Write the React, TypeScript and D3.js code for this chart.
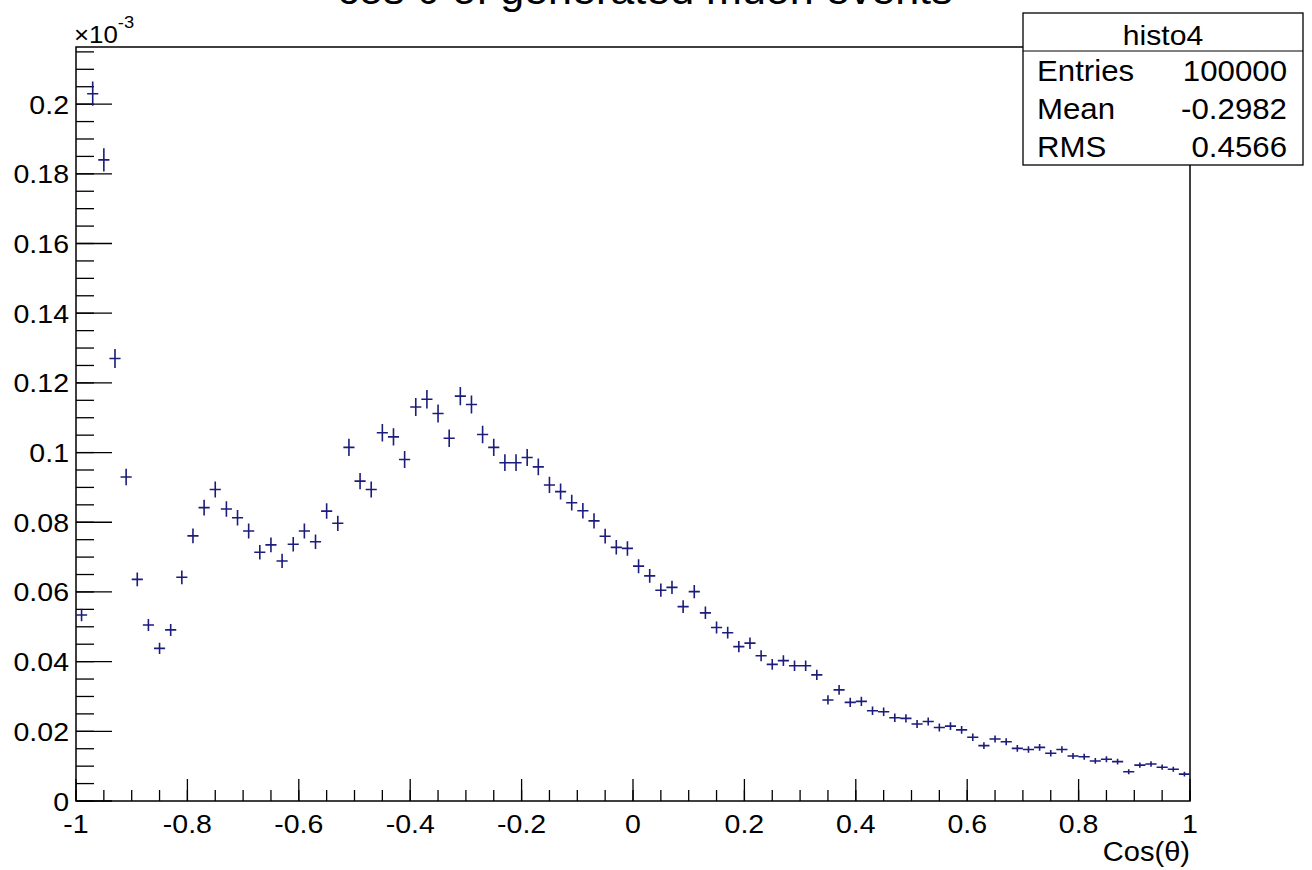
import React from "react";
import * as d3 from "d3";

// ---- data ----
const titleText = "cos θ of generated muon events";
const xAxisTitle = "Cos(θ)";
const histName = "histo4";
const statsLabels = ["Entries", "Mean", "RMS"];
const statsValues = ["100000", "-0.2982", "0.4566"];
const entries = 100000;
const xMin = -1;
const xMax = 1;
const nBins = 100;
const yMax = 0.2164; // in units of 1e-3
const yExponentBase = "×10";
const yExponent = "-3";

const xTickValues = [-1, -0.8, -0.6, -0.4, -0.2, 0, 0.2, 0.4, 0.6, 0.8, 1];
const xTickLabels = ["-1", "-0.8", "-0.6", "-0.4", "-0.2", "0", "0.2", "0.4", "0.6", "0.8", "1"];
const yTickValues = [0, 0.02, 0.04, 0.06, 0.08, 0.1, 0.12, 0.14, 0.16, 0.18, 0.2];
const yTickLabels = ["0", "0.02", "0.04", "0.06", "0.08", "0.1", "0.12", "0.14", "0.16", "0.18", "0.2"];
const xMinorStep = 0.05;
const yMinorStep = 0.005;

// bin contents (×1e-3), bins from -1 to 1 in steps of 0.02
const values = [
  0.0534, 0.203, 0.184, 0.127, 0.093, 0.0636, 0.0505, 0.0438, 0.0491, 0.0642,
  0.0761, 0.0842, 0.0894, 0.0838, 0.0813, 0.0775, 0.0714, 0.0735, 0.0689, 0.0737,
  0.0775, 0.0744, 0.0832, 0.0797, 0.1015, 0.0918, 0.0894, 0.1057, 0.1045, 0.098,
  0.1131, 0.1153, 0.1112, 0.1041, 0.1162, 0.1138, 0.1052, 0.1015, 0.0971, 0.0971,
  0.0986, 0.0959, 0.0907, 0.0888, 0.0856, 0.0833, 0.0804, 0.076, 0.0728, 0.0725,
  0.0674, 0.0646, 0.0605, 0.0613, 0.0558, 0.0601, 0.054, 0.0498, 0.0483, 0.0443,
  0.0453, 0.0417, 0.0392, 0.0403, 0.0388, 0.0388, 0.0362, 0.029, 0.0319, 0.0283,
  0.0286, 0.0259, 0.0256, 0.0239, 0.0237, 0.0221, 0.0228, 0.0211, 0.0215, 0.0204,
  0.0183, 0.0159, 0.0178, 0.017, 0.0151, 0.0148, 0.0154, 0.0137, 0.0148, 0.0129,
  0.0127, 0.0115, 0.012, 0.0113, 0.0084, 0.0103, 0.0106, 0.0097, 0.0091, 0.0077,
];

// ---- layout ----
const W = 1312;
const H = 870;
const L = 76;
const T = 47;
const R = 1190;
const B = 801;
const SX = 1.077; // horizontal stretch of the reference text
const FONT = "'Liberation Sans', Arial, Helvetica, sans-serif";
const MARK = "#1c1c7c";

function Txt(props: {
  x: number; y: number; size: number; anchor?: string; children: React.ReactNode;
}) {
  const { x, y, size, anchor = "start", children } = props;
  return (
    <text
      transform={`translate(${x},${y}) scale(${SX},1)`}
      fontSize={size}
      fontFamily={FONT}
      textAnchor={anchor}
      fill="#000"
    >
      {children}
    </text>
  );
}

export default function App() {
  const xs = d3.scaleLinear().domain([xMin, xMax]).range([L, R]);
  const ys = d3.scaleLinear().domain([0, yMax]).range([B, T]);
  const bw = (xMax - xMin) / nBins;
  const total = d3.sum(values);
  const wPerEntry = total / entries;

  const xMinor = d3.range(xMin, xMax + 1e-9, xMinorStep);
  const yMinor = d3.range(0, yMax, yMinorStep);

  const markPath = values
    .map((v, i) => {
      const e = Math.sqrt(v * wPerEntry);
      const x0 = xs(xMin + i * bw);
      const x1 = xs(xMin + (i + 1) * bw);
      const xc = xs(xMin + (i + 0.5) * bw);
      const yc = ys(v);
      return `M${x0},${yc}H${x1}M${xc},${ys(v + e)}V${ys(Math.max(0, v - e))}`;
    })
    .join("");

  const statX0 = 1023;
  const statY0 = 13;
  const statW = 280;
  const statRow = 38;

  return (
    <svg
      width={W}
      height={H}
      style={{ position: "absolute", left: 0, top: 0, background: "#fff" }}
    >
      <rect x={0} y={0} width={W} height={H} fill="#fff" />
      {/* title (cut off at the top, as in the reference) */}
      <Txt x={645} y={4} size={40} anchor="middle">{titleText}</Txt>

      {/* frame */}
      <rect x={L} y={T} width={R - L} height={B - T} fill="none" stroke="#000" strokeWidth={1.5} />

      {/* ticks */}
      <g stroke="#000" strokeWidth={1.3}>
        {xMinor.map((v, i) => (
          <line key={"xm" + i} x1={xs(v)} x2={xs(v)} y1={B} y2={B - 11} />
        ))}
        {xTickValues.map((v, i) => (
          <line key={"xM" + i} x1={xs(v)} x2={xs(v)} y1={B} y2={B - 22} />
        ))}
        {yMinor.map((v, i) => (
          <line key={"ym" + i} x1={L} x2={L + 18} y1={ys(v)} y2={ys(v)} />
        ))}
        {yTickValues.map((v, i) => (
          <line key={"yM" + i} x1={L} x2={L + 36} y1={ys(v)} y2={ys(v)} />
        ))}
      </g>

      {/* tick labels */}
      {xTickValues.map((v, i) => (
        <Txt key={"xl" + i} x={xs(v)} y={833} size={26.5} anchor="middle">
          {xTickLabels[i]}
        </Txt>
      ))}
      {yTickValues.map((v, i) => (
        <Txt key={"yl" + i} x={69} y={ys(v) + 9.5} size={26.5} anchor="end">
          {yTickLabels[i]}
        </Txt>
      ))}

      {/* exponent */}
      <Txt x={74} y={43} size={24}>
        {yExponentBase}
        <tspan fontSize={17} dy={-15}>{yExponent}</tspan>
      </Txt>

      {/* axis title */}
      <Txt x={R} y={861} size={27} anchor="end">{xAxisTitle}</Txt>

      {/* histogram markers with error bars */}
      <path d={markPath} fill="none" stroke={MARK} strokeWidth={1.6} />

      {/* stats box */}
      <rect x={statX0} y={statY0} width={statW} height={statRow * 4} fill="#fff" stroke="#000" strokeWidth={1.3} />
      <line x1={statX0} x2={statX0 + statW} y1={statY0 + statRow} y2={statY0 + statRow} stroke="#000" strokeWidth={1} />
      <Txt x={1163} y={45} size={28} anchor="middle">{histName}</Txt>
      {statsLabels.map((lab, i) => (
        <g key={"s" + i}>
          <Txt x={1037} y={statY0 + statRow * (i + 1) + 30} size={29}>{lab}</Txt>
          <Txt x={1287} y={statY0 + statRow * (i + 1) + 30} size={29} anchor="end">
            {statsValues[i]}
          </Txt>
        </g>
      ))}
    </svg>
  );
}
